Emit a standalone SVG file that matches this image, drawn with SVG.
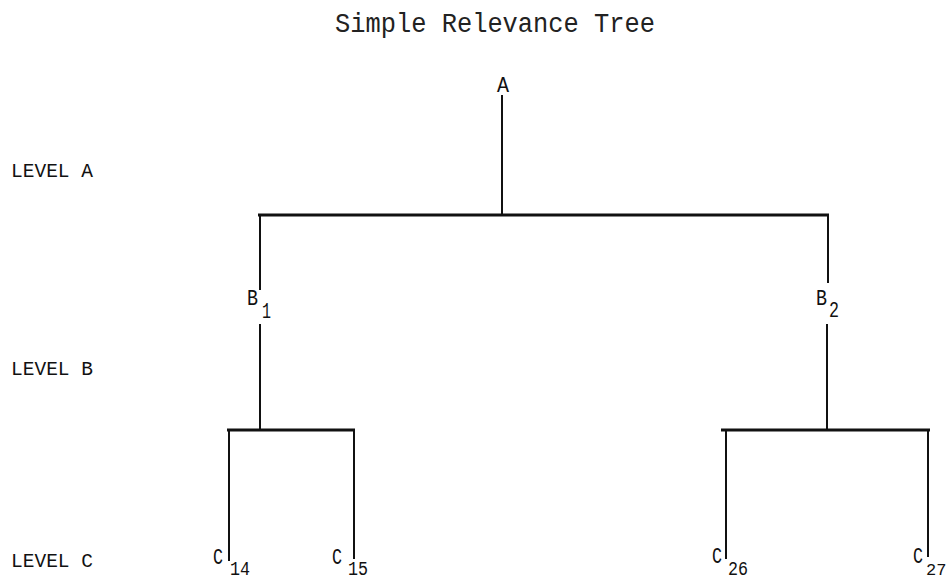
<svg xmlns="http://www.w3.org/2000/svg" width="948" height="582" viewBox="0 0 948 582">
<style>
text{font-family:"Liberation Mono","DejaVu Sans Mono",monospace;fill:#111}
.t{font-size:27px;fill:#222}
.lv{font-size:20px}
.n{font-size:22px}
.s{font-size:22px}
.ss{font-size:20px}
.sr{font-size:17px}
.h{stroke:#111;stroke-width:3.2;fill:none}
.v{stroke:#111;stroke-width:2;fill:none}
</style>
<rect width="948" height="582" fill="#fff"/>
<text class="t" x="335" y="32" textLength="320" lengthAdjust="spacingAndGlyphs">Simple Relevance Tree</text>
<text class="lv" x="11" y="177" textLength="82" lengthAdjust="spacingAndGlyphs">LEVEL A</text>
<text class="lv" x="11" y="375" textLength="82" lengthAdjust="spacingAndGlyphs">LEVEL B</text>
<text class="lv" x="11" y="567" textLength="82" lengthAdjust="spacingAndGlyphs">LEVEL C</text>
<g id="connectors">
<line class="v" x1="502" y1="95" x2="502" y2="215"/>
<line class="h" x1="258" y1="215" x2="829" y2="215"/>
<line class="v" x1="260" y1="215" x2="260" y2="290"/>
<line class="v" x1="828" y1="215" x2="828" y2="283"/>
<line class="v" x1="260" y1="324" x2="260" y2="430"/>
<line class="v" x1="827" y1="324" x2="827" y2="430"/>
<line class="h" x1="227" y1="430" x2="355" y2="430"/>
<line class="v" x1="229" y1="430" x2="229" y2="561"/>
<line class="v" x1="354" y1="430" x2="354" y2="559"/>
<line class="h" x1="721" y1="430" x2="930" y2="430"/>
<line class="v" x1="726" y1="430" x2="726" y2="559"/>
<line class="v" x1="928" y1="430" x2="928" y2="557"/>
</g>
<g id="A"><text class="n" x="497" y="92" textLength="12" lengthAdjust="spacingAndGlyphs">A</text></g>
<g id="B1"><text class="n" x="247" y="305" textLength="11" lengthAdjust="spacingAndGlyphs">B</text><text class="s" x="262" y="318" textLength="9" lengthAdjust="spacingAndGlyphs">1</text></g>
<g id="B2"><text class="n" x="816" y="305" textLength="11" lengthAdjust="spacingAndGlyphs">B</text><text class="s" x="829" y="317" textLength="10" lengthAdjust="spacingAndGlyphs">2</text></g>
<g id="C14"><text class="n" x="213" y="564" textLength="10" lengthAdjust="spacingAndGlyphs">C</text><text class="ss" x="230" y="575" textLength="20" lengthAdjust="spacingAndGlyphs">14</text></g>
<g id="C15"><text class="n" x="332" y="564" textLength="10" lengthAdjust="spacingAndGlyphs">C</text><text class="ss" x="348" y="575" textLength="20" lengthAdjust="spacingAndGlyphs">15</text></g>
<g id="C26"><text class="n" x="712" y="563" textLength="10" lengthAdjust="spacingAndGlyphs">C</text><text class="ss" x="728" y="575" textLength="20" lengthAdjust="spacingAndGlyphs">26</text></g>
<g id="C27"><text class="n" x="913" y="563" textLength="10" lengthAdjust="spacingAndGlyphs">C</text><text class="sr" x="926" y="575">27</text></g>
</svg>
